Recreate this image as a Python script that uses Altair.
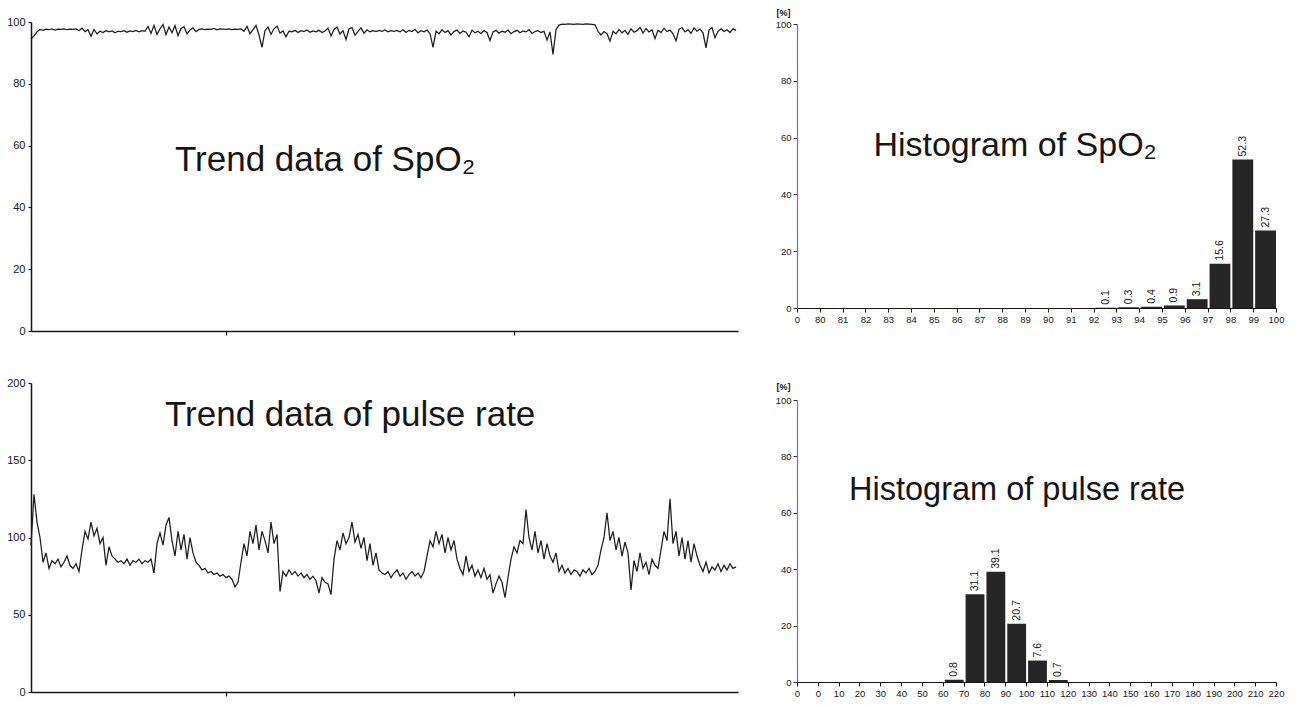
import json
import altair as alt
import pandas as pd

# ---------------- data ----------------
# SpO2 trend (%), one reading every 3 time units
spo2_trend = [
    94.5, 95.5, 96.8,
    97.6, 97.3, 97.7, 97.5, 97.8, 97.4, 97.7, 97.6, 97.8, 97.5, 97.7, 97.6, 97.8,
    97.2, 98.0, 96.9, 97.5, 95.4, 97.6, 96.2,
    97.0, 96.6, 97.2, 96.8, 97.1, 96.5, 97.0, 96.9, 97.2, 96.7, 97.1, 96.9, 97.3, 96.8, 97.2, 97.0,
    98.6, 96.3, 98.9, 96.0, 97.8, 99.2, 95.9, 98.4, 96.5, 98.8, 95.6, 97.9, 98.5, 96.2, 97.4, 98.1, 96.9,
    97.6, 97.8, 97.5, 97.7, 97.6, 97.9, 97.5, 97.8, 97.7, 97.6, 97.8, 97.5, 97.7, 97.6, 97.8,
    97.0, 98.6, 96.2, 97.5, 98.9, 95.8, 91.8, 97.2, 98.4, 96.0, 97.8, 98.7, 96.4, 97.1, 95.2,
    97.0, 96.8, 97.3, 96.6, 97.2, 96.9, 97.4, 96.7, 97.1, 96.8, 97.3, 96.6, 97.1,
    98.0, 95.5, 97.6, 98.4, 96.1, 97.2, 94.3, 97.8, 98.2, 95.7, 97.0, 98.1, 96.4, 97.5, 96.8,
    97.2, 96.9, 97.3, 97.0, 97.4, 96.8, 97.2, 97.0, 97.3,
    96.8, 97.5, 96.6, 97.3, 96.9, 97.6, 96.5, 97.2, 96.8, 97.4, 96.3,
    91.8, 97.0, 96.2, 97.5, 96.6, 97.2, 95.8, 96.9, 97.4, 96.3, 97.1, 96.7, 95.2, 97.3, 96.5, 97.0, 96.2, 97.2, 96.6,
    94.0, 96.8, 97.3, 96.4, 97.0, 96.7, 97.4, 96.2, 96.9, 97.3, 96.5, 97.1, 96.8, 97.5, 96.3, 96.9, 97.2, 96.6, 97.0, 94.2, 96.8,
    89.5, 97.5,
    99.0, 99.3, 99.2, 99.4, 99.3, 99.2, 99.4, 99.3, 99.2, 99.4, 99.3, 99.2, 99.1,
    97.0, 95.8, 96.9, 96.2,
    93.8, 97.0, 96.2, 97.6, 96.5, 97.3, 96.0, 97.8, 96.7, 97.2, 98.3, 96.4, 97.9, 96.8, 97.5, 94.6,
    97.3, 96.6, 98.0, 96.9, 97.4, 96.2, 93.9, 97.6, 98.2, 96.8, 97.5, 96.3, 98.1, 97.0, 97.7, 96.5,
    91.6, 97.4, 98.2, 94.9, 97.0, 97.8, 96.9, 97.5, 96.6, 97.8, 97.2,
]

# Pulse rate trend (bpm), one reading every 3 time units
pulse_trend = [
    95, 128, 110, 100, 84, 90, 80,
    85, 83, 86, 81, 84, 88, 82, 80, 83,
    78, 92,
    104, 99, 110, 101, 106, 96,
    100, 82, 94, 88,
    86, 84, 85, 83, 86, 82, 85, 84, 86, 83, 85, 84, 86, 77,
    96, 103, 95, 108, 113,
    98, 88, 104, 92, 102, 86, 100,
    90, 84, 82,
    79, 80, 77, 78, 76, 77, 75, 76, 74, 75, 73, 68, 71,
    84, 96, 88,
    104, 96, 108, 92, 104, 98,
    90, 110, 96, 102, 65,
    78, 75, 79, 76, 78, 75, 77, 74, 76, 73, 75, 72, 64, 74, 71, 70,
    63,
    86, 98, 92, 103, 96, 100, 110, 97, 102, 93, 100, 85, 96, 82,
    90, 79, 77,
    76, 78, 74, 77, 79, 75, 77, 73, 76, 78, 75, 77, 74, 78,
    88, 98, 94,
    104, 96, 102, 90, 100, 92, 98, 86,
    80, 76, 88, 78, 82, 75, 79, 74, 80, 73, 76, 64, 70, 75, 71,
    61, 74,
    86, 94, 90, 98, 96,
    118,
    100, 92, 104, 90, 98, 86, 96, 88,
    84, 90, 78, 82, 77, 80, 76, 79, 78, 75, 79, 77, 80, 76, 78, 82,
    92, 100, 116,
    98, 104, 92, 100, 88, 97, 90,
    66,
    85, 78, 90, 80, 84, 76, 86, 82,
    80, 92, 104, 98,
    125,
    96, 104, 88, 100, 86, 98, 84, 96, 88,
    82, 78, 84, 77, 81, 79, 83, 78, 82, 79, 83, 80, 81,
]
trend_step = 3
trend_span = [0, 707]
trend_x_ticks = [195, 483]
spo2_y_ticks = [0, 20, 40, 60, 80, 100]
pulse_y_ticks = [0, 50, 100, 150, 200]

# Histogram of SpO2
spo2_bin_lo = [92, 93, 94, 95, 96, 97, 98, 99]
spo2_bin_hi = [93, 94, 95, 96, 97, 98, 99, 100]
spo2_pct = [0.1, 0.3, 0.4, 0.9, 3.1, 15.6, 52.3, 27.3]
spo2_axis_ticks = [79, 80, 81, 82, 83, 84, 85, 86, 87, 88, 89, 90, 91, 92, 93, 94, 95, 96, 97, 98, 99, 100]
spo2_axis_labels = ["0", "80", "81", "82", "83", "84", "85", "86", "87", "88", "89", "90",
                    "91", "92", "93", "94", "95", "96", "97", "98", "99", "100"]

# Histogram of pulse rate
pulse_bin_lo = [60, 70, 80, 90, 100, 110]
pulse_bin_hi = [70, 80, 90, 100, 110, 120]
pulse_pct = [0.8, 31.1, 39.1, 20.7, 7.6, 0.7]
pulse_axis_ticks = [-10, 0, 10, 20, 30, 40, 50, 60, 70, 80, 90, 100, 110, 120, 130, 140, 150,
                    160, 170, 180, 190, 200, 210, 220]
pulse_axis_labels = ["0", "0", "10", "20", "30", "40", "50", "60", "70", "80", "90", "100", "110",
                     "120", "130", "140", "150", "160", "170", "180", "190", "200", "210", "220"]
hist_y_ticks = [0, 20, 40, 60, 80, 100]

# Panel captions (text, x, y in data units)
captions = {
    "spo2_trend": ("Trend data of SpO\u2082", 144, 55.5),
    "pulse_trend": ("Trend data of pulse rate", 134, 179),
    "spo2_hist": ("Histogram of SpO\u2082", 82.35, 57),
    "pulse_hist": ("Histogram of pulse rate", 15, 68),
}

FONT = "Liberation Sans"
INK = "#151515"


def caption_layer(key, size):
    text, cx, cy = captions[key]
    df = pd.DataFrame({"t": [cx], "v": [cy], "s": [text]})
    return alt.Chart(df).mark_text(
        align="left", baseline="middle", font=FONT, fontSize=size, color=INK
    ).encode(x="t:Q", y="v:Q", text="s:N")


def trend_chart(values, ymax, yticks, key, spacer_title):
    df = pd.DataFrame({"t": [i * trend_step for i in range(len(values))], "v": values})
    if spacer_title:
        # invisible title, only keeps the row tops aligned with the histogram's "[%]"
        title_kw = dict(title="[%]", titleAngle=0, titleAlign="left", titleBaseline="bottom",
                        titleX=0, titleY=-5, titleFont=FONT, titleFontSize=9,
                        titleFontWeight="bold", titleColor="white")
    else:
        title_kw = dict(title=None)
    line = alt.Chart(df).mark_line(color="#1c1c1c", strokeWidth=1.25).encode(
        x=alt.X("t:Q", scale=alt.Scale(domain=trend_span, nice=False, zero=False),
                axis=alt.Axis(values=trend_x_ticks, labels=False, title=None, grid=False,
                              domainColor=INK, domainWidth=1.5, tickColor=INK,
                              tickSize=4, tickWidth=1.2, tickCount=50)),
        y=alt.Y("v:Q", scale=alt.Scale(domain=[0, ymax], nice=False),
                axis=alt.Axis(values=yticks, grid=False, domainColor=INK,
                              domainWidth=1.5, tickColor=INK, tickSize=3, tickWidth=1.2,
                              labelFont=FONT, labelFontSize=11, labelColor=INK,
                              labelPadding=3, labelOverlap=False, tickCount=50, **title_kw)),
    )
    return alt.layer(line, caption_layer(key, 35)).properties(width=707, height=309)


def hist_chart(lo, hi, pct, domain, ticks, labels, key, height, yrange, title_y, cap_size):
    df = pd.DataFrame({"lo": lo, "hi": hi, "pct": pct})
    label_expr = f"{json.dumps(labels)}[indexof({json.dumps(ticks)}, datum.value)]"
    yscale = alt.Scale(domain=[0, 100], nice=False, range=yrange)
    xaxis = alt.Axis(values=ticks, tickCount=100, labelExpr=label_expr, title=None, grid=False,
                     labelFlush=False, labelOverlap=False, domainColor=INK, domainWidth=1.2,
                     tickColor=INK, tickSize=4, labelFont=FONT, labelFontSize=9.5,
                     labelColor=INK, labelPadding=2)
    yaxis = alt.Axis(values=hist_y_ticks, tickCount=50, title="[%]", titleAngle=0,
                     titleAlign="left", titleBaseline="bottom", titleX=-21, titleY=title_y,
                     titleFont=FONT, titleFontSize=9, titleFontWeight="bold", titleColor=INK,
                     grid=False, domainColor="#777777", domainWidth=1.2, tickColor="#333333",
                     tickSize=4, labelFont=FONT, labelFontSize=9.5, labelColor=INK,
                     labelPadding=2, labelOverlap=False)
    bars = alt.Chart(df).mark_bar(color="#262626", xOffset=2).encode(
        x=alt.X("lo:Q", scale=alt.Scale(domain=domain, nice=False, zero=False), axis=xaxis),
        x2="hi:Q",
        y=alt.Y("pct:Q", scale=yscale, axis=yaxis),
        y2=alt.datum(0),
    )
    labels_layer = alt.Chart(df).transform_calculate(
        mid="(datum.lo + datum.hi) / 2"
    ).mark_text(angle=270, align="left", baseline="middle", dx=3, dy=1, font=FONT,
                fontSize=10.5, color=INK).encode(
        x="mid:Q", y="pct:Q", text=alt.Text("pct:Q", format=".1f")
    )
    cap = caption_layer(key, cap_size)
    return alt.layer(bars, labels_layer, cap).properties(width=479, height=height)


t1 = trend_chart(spo2_trend, 100, spo2_y_ticks, "spo2_trend", True)
t2 = trend_chart(pulse_trend, 200, pulse_y_ticks, "pulse_trend", False)
h1 = hist_chart(spo2_bin_lo, spo2_bin_hi, spo2_pct, [79, 100], spo2_axis_ticks,
                spo2_axis_labels, "spo2_hist", 286, [286, 2], -5, 34)
h2 = hist_chart(pulse_bin_lo, pulse_bin_hi, pulse_pct, [-10, 220], pulse_axis_ticks,
                pulse_axis_labels, "pulse_hist", 282, [282, 0], -9, 32.5)

left = alt.vconcat(t1, t2, spacing=52, bounds="flush")
right = alt.vconcat(h1, h2, spacing=92, bounds="flush")
chart = alt.hconcat(left, right, spacing=36).properties(
    padding={"left": 6, "top": 8, "right": 5, "bottom": 5}
).configure(
    font=FONT, background="white",
    view=alt.ViewConfig(stroke=None),
    axis=alt.AxisConfig(labelOverlap=False),
)

chart.save("out.html", embed_options={"renderer": "svg", "actions": False})
